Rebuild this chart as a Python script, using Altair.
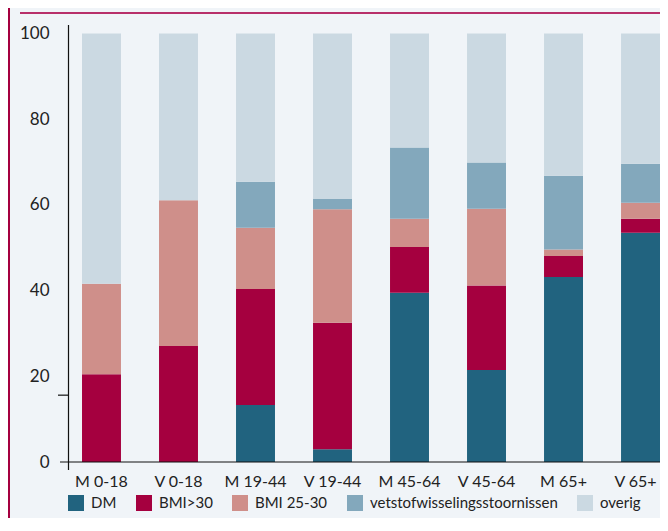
import altair as alt
import pandas as pd

groups = ["M 0-18", "V 0-18", "M 19-44", "V 19-44", "M 45-64", "V 45-64", "M 65+", "V 65+"]
series = ["DM", "BMI>30", "BMI 25-30", "vetstofwisselingsstoornissen", "overig"]
colors = ["#21637f", "#a5003f", "#cf8f8a", "#83a8bc", "#cbd9e2"]

dm = [0.0, 0.0, 13.3, 3.0, 39.5, 21.5, 43.2, 53.5]
bmi30 = [20.5, 27.1, 27.1, 29.5, 10.7, 19.7, 4.9, 3.3]
bmi2530 = [21.1, 34.0, 14.3, 26.5, 6.6, 17.9, 1.5, 3.7]
vet = [0.0, 0.0, 10.7, 2.4, 16.6, 10.8, 17.2, 9.1]
overig = [58.4, 38.9, 34.6, 38.6, 26.6, 30.1, 33.2, 30.4]

y_ticks = [0, 20, 40, 60, 80, 100]

rows = []
for vals, name in zip([dm, bmi30, bmi2530, vet, overig], series):
    for g, v in zip(groups, vals):
        rows.append({"groep": g, "reeks": name, "waarde": v, "volgorde": series.index(name)})
df = pd.DataFrame(rows)

FONT = "Lato"

bars = alt.Chart(df).mark_bar().encode(
    x=alt.X("groep:N", sort=groups,
            scale=alt.Scale(paddingInner=0.494, paddingOuter=0.091, align=1),
            axis=alt.Axis(title=None, labelAngle=0, ticks=False, domain=False,
                          labelFontSize=16, labelPadding=11, labelColor="#222222",
                          labelFont=FONT,
                          labelOffset={"expr": "datum.label == 'V 65+' ? -5 : 0"})),
    y=alt.Y("waarde:Q", stack="zero",
            scale=alt.Scale(domain=[0, 102], nice=False),
            axis=alt.Axis(title=None, values=y_ticks, ticks=False, domain=False, grid=False,
                          labelFontSize=17, labelPadding=19, labelColor="#222222",
                          labelFont=FONT)),
    color=alt.Color("reeks:N", sort=series,
                    scale=alt.Scale(domain=series, range=colors),
                    legend=alt.Legend(title=None, orient="none", direction="horizontal",
                                      legendX=0, legendY=470, symbolType="square",
                                      symbolSize=256, symbolStrokeWidth=0,
                                      labelFontSize=15, labelOffset=7, columnPadding=19,
                                      labelColor="#222222", labelFont=FONT,
                                      labelLimit=400)),
    order=alt.Order("volgorde:Q", sort="ascending"),
)

one = pd.DataFrame({"a": [0]})

x_axis_line = alt.Chart(one).mark_rule(color="#111111", strokeWidth=1.2).encode(
    x=alt.value(-8), x2=alt.value(592), y=alt.datum(0))
y_axis_line = alt.Chart(one).mark_rule(color="#111111", strokeWidth=1.2).encode(
    x=alt.value(0.5), y=alt.value(0), y2=alt.value(445))
stray_tick = alt.Chart(one).mark_rule(color="#111111", strokeWidth=1.2).encode(
    x=alt.value(-10), x2=alt.value(0), y=alt.datum(15.6))
top_line = alt.Chart(one).mark_rule(color="#b8306a", strokeWidth=2).encode(
    x=alt.value(-48), x2=alt.value(592), y=alt.value(-12))
left_border = alt.Chart(one).mark_rule(color="#a5003f", strokeWidth=2).encode(
    x=alt.value(-59), y=alt.value(-17), y2=alt.value(493))

chart = alt.layer(bars, x_axis_line, y_axis_line, stray_tick, top_line, left_border).properties(
    width=592, height=437, autosize="none",
    padding={"left": 60, "top": 17, "right": 0, "bottom": 56},
).configure(background="#f0f4f8").configure_view(stroke=None)

chart.save("out.html", embed_options={"renderer": "svg", "actions": False})
